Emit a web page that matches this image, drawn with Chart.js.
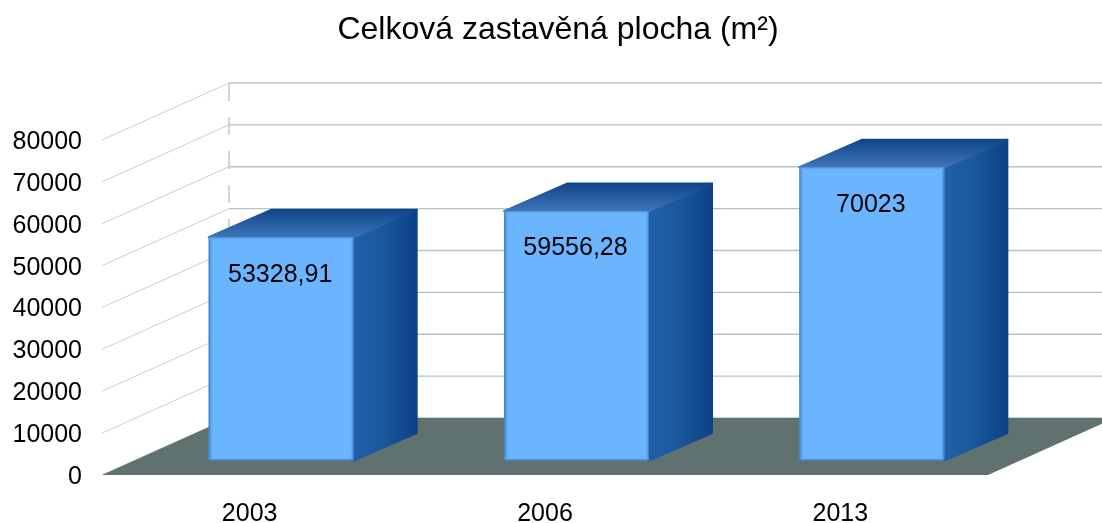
<!DOCTYPE html>
<html>
<head>
<meta charset="utf-8">
<style>html,body{margin:0;padding:0;background:#fff}canvas{display:block}</style>
<script src="https://cdn.jsdelivr.net/npm/chart.js@4"></script>
</head>
<body>
<canvas id="c" width="1102" height="523"></canvas>
<script>
const categories = ['2003', '2006', '2013'];
const areaValues = [53328.91, 59556.28, 70023];
const valueLabels = ['53328,91', '59556,28', '70023'];
const yTickValues = [0, 10000, 20000, 30000, 40000, 50000, 60000, 70000, 80000];
const chartTitle = 'Celková zastavěná plocha (m²)';

const FONT = '"Liberation Sans", Arial, sans-serif';
const WALL = {dx: 127, dy: 57};
const BAR = {ox: 31.5, oy: -14.5, dx: 63, dy: 27.5};

function poly(ctx, pts, fill) {
  ctx.beginPath();
  pts.forEach((p, i) => i ? ctx.lineTo(p[0], p[1]) : ctx.moveTo(p[0], p[1]));
  ctx.closePath();
  ctx.fillStyle = fill;
  ctx.fill();
  ctx.strokeStyle = fill;
  ctx.lineJoin = 'round';
  ctx.lineWidth = 2;
  ctx.stroke();
}

const box3d = {
  id: 'box3d',
  beforeDatasetsDraw(chart) {
    const {ctx, scales: {y}, chartArea: a, width} = chart;
    ctx.save();
    // walls
    yTickValues.forEach(v => {
      const py = y.getPixelForValue(v);
      ctx.beginPath();
      ctx.moveTo(a.left, py);
      ctx.lineTo(a.left + WALL.dx, py - WALL.dy);
      ctx.strokeStyle = '#c6cfcc';
      ctx.lineWidth = 1;
      ctx.stroke();
      ctx.beginPath();
      ctx.moveTo(a.left + WALL.dx, py - WALL.dy);
      ctx.lineTo(width, py - WALL.dy);
      ctx.strokeStyle = '#b4c3c3';
      ctx.lineWidth = 1.3;
      ctx.stroke();
    });
    ctx.beginPath();
    ctx.setLineDash([18, 16]);
    ctx.moveTo(a.left + WALL.dx, a.top - WALL.dy);
    ctx.lineTo(a.left + WALL.dx, a.bottom - WALL.dy);
    ctx.strokeStyle = '#b4c3c3';
    ctx.lineWidth = 1.3;
    ctx.stroke();
    ctx.setLineDash([]);
    // floor
    ctx.beginPath();
    ctx.moveTo(a.left, a.bottom);
    ctx.lineTo(a.right, a.bottom);
    ctx.lineTo(a.right + WALL.dx, a.bottom - WALL.dy);
    ctx.lineTo(a.left + WALL.dx, a.bottom - WALL.dy);
    ctx.closePath();
    ctx.fillStyle = '#5f7270';
    ctx.fill();
    ctx.restore();

    // bars sit mid-way into the floor depth
    ctx.save();
    ctx.translate(BAR.ox, BAR.oy);
    chart.getDatasetMeta(0).data.forEach(el => {
      const l = el.x - el.width / 2, r = el.x + el.width / 2, t = el.y, b = el.base;
      const sg = ctx.createLinearGradient(r, 0, r + BAR.dx, 0);
      sg.addColorStop(0, '#205ea6');
      sg.addColorStop(0.4, '#1c5a9f');
      sg.addColorStop(1, '#0d4186');
      poly(ctx, [[r, t], [r + BAR.dx, t - BAR.dy], [r + BAR.dx, b - BAR.dy], [r, b]], sg);
      const tg = ctx.createLinearGradient(0, t - BAR.dy, 0, t);
      tg.addColorStop(0, '#0f4589');
      tg.addColorStop(1, '#3d76b8');
      poly(ctx, [[l, t], [l + BAR.dx, t - BAR.dy], [r + BAR.dx, t - BAR.dy], [r, t]], tg);
    });
  },
  afterDatasetsDraw(chart) {
    const {ctx} = chart;
    chart.getDatasetMeta(0).data.forEach((el, i) => {
      const l = el.x - el.width / 2, r = el.x + el.width / 2, t = el.y, b = el.base;
      // bevelled front edges
      const lg = ctx.createLinearGradient(l, 0, l + 5, 0);
      lg.addColorStop(0, 'rgba(50,115,190,0.95)');
      lg.addColorStop(1, 'rgba(107,181,255,0)');
      ctx.fillStyle = lg;
      ctx.fillRect(l, t, 5, b - t);
      const rg = ctx.createLinearGradient(r - 4, 0, r, 0);
      rg.addColorStop(0, 'rgba(107,181,255,0)');
      rg.addColorStop(1, 'rgba(50,115,190,0.95)');
      ctx.fillStyle = rg;
      ctx.fillRect(r - 4, t, 4, b - t);
      const bg = ctx.createLinearGradient(0, b - 3, 0, b);
      bg.addColorStop(0, 'rgba(107,181,255,0)');
      bg.addColorStop(1, 'rgba(50,115,190,0.95)');
      ctx.fillStyle = bg;
      ctx.fillRect(l, b - 3, r - l, 3);
      const ug = ctx.createLinearGradient(0, t, 0, t + 3);
      ug.addColorStop(0, 'rgba(70,135,205,0.9)');
      ug.addColorStop(1, 'rgba(107,181,255,0)');
      ctx.fillStyle = ug;
      ctx.fillRect(l, t, r - l, 3);
      // value label
      ctx.fillStyle = '#000';
      ctx.font = '25px ' + FONT;
      ctx.textAlign = 'center';
      ctx.textBaseline = 'middle';
      ctx.fillText(valueLabels[i], el.x - 1, t + 37.5);
    });
    ctx.restore();
  }
};

new Chart(document.getElementById('c'), {
  type: 'bar',
  data: {
    labels: categories,
    datasets: [{
      label: 'Celková zastavěná plocha',
      data: areaValues,
      backgroundColor: '#6bb5ff',
      borderWidth: 0,
      borderRadius: 2,
      borderSkipped: false,
      categoryPercentage: 1,
      barPercentage: 0.491
    }]
  },
  options: {
    responsive: false,
    animation: false,
    layout: {padding: {left: 12, right: -2, top: 0, bottom: 0}},
    plugins: {
      legend: {display: false},
      tooltip: {enabled: false},
      title: {
        display: true,
        text: chartTitle,
        color: '#000',
        font: {family: FONT, size: 32, weight: 'normal', lineHeight: 1.2},
        padding: {top: 11, bottom: 90.6}
      }
    },
    scales: {
      x: {
        grid: {display: false},
        border: {display: false},
        ticks: {color: '#000', font: {family: FONT, size: 25}, padding: 16, maxRotation: 0},
        afterFit(s) { s.height = 48; }
      },
      y: {
        min: 0,
        max: 80000,
        grid: {display: false},
        border: {display: false},
        ticks: {
          stepSize: 10000,
          color: '#000',
          font: {family: FONT, size: 25},
          padding: 12,
          callback: v => String(v)
        },
        afterFit(s) {
          s.width = 90;
          if (!s._shifted) {
            s._shifted = true;
            const draw = s.drawLabels;
            s.drawLabels = function (area) {
              this.ctx.save();
              this.ctx.translate(0, 2);
              draw.call(this, area);
              this.ctx.restore();
            };
          }
        }
      },
      yPad: {
        axis: 'y',
        position: 'right',
        min: 0,
        max: 80000,
        grid: {display: false},
        border: {display: false},
        ticks: {display: false},
        afterFit(s) { s.width = 116; }
      }
    }
  },
  plugins: [box3d]
});
</script>
</body>
</html>
